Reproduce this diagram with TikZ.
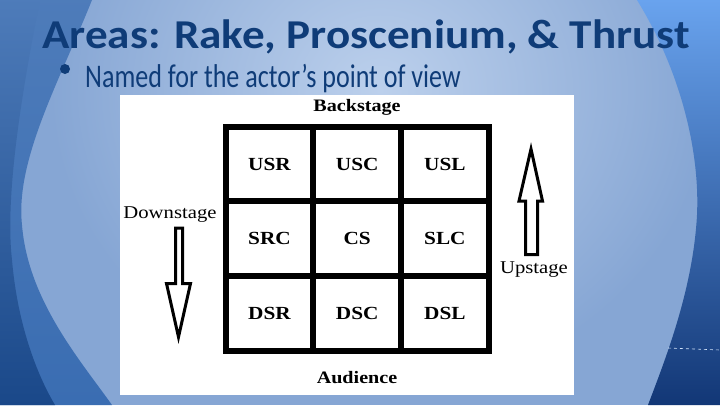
\documentclass[tikz,border=0pt]{standalone}
\usepackage{fontspec}
\setmainfont{Liberation Serif}
\newfontfamily\titlefont[FakeStretch=1.1]{Carlito}
\newfontfamily\slidefont[FakeStretch=0.79]{Carlito}
\newfontfamily\stagefont[FakeStretch=1.15]{Liberation Serif}
\usetikzlibrary{positioning}
\definecolor{titleblue}{HTML}{0F3C78}
\definecolor{bglight}{HTML}{BCD0EC}
\definecolor{bgmid}{HTML}{86A6D4}
\definecolor{bandblue}{HTML}{3A6DB2}
\definecolor{darkblue}{HTML}{1A4889}
\definecolor{rightblue}{HTML}{69A3EE}
\definecolor{navy}{HTML}{123776}
\tikzstyle{cell} = [rectangle, draw=black, line width=6pt, outer sep=0pt, inner sep=0pt, minimum width=87.7pt, minimum height=74.7pt, font=\stagefont\bfseries\fontsize{18.5}{20}\selectfont]
\tikzstyle{side} = [inner sep=0pt, font=\stagefont\fontsize{18}{20}\selectfont]
\tikzstyle{edge} = [inner sep=0pt, font=\stagefont\bfseries\fontsize{17.5}{20}\selectfont]
\tikzstyle{blockarrow} = [draw=black, line width=3pt, fill=white, line join=miter]

\begin{document}
\begin{tikzpicture}[x=1pt, y=-1pt, node distance=87.7pt]
\useasboundingbox (0,0) rectangle (720,405);

%% BACKGROUND

\fill[bgmid] (0,0) rectangle (720,405);
\shade[inner color=bglight, outer color=bgmid] (380,90) ellipse (330 and 300);
\shade[top color=rightblue, bottom color=navy] (637,0) .. controls (680,70) and (700,150) .. (697,215) .. controls (693,290) and (665,360) .. (648,405) -- (720,405) -- (720,0) -- cycle;
\draw[white!70!rightblue, dashed, line width=0.6pt] (668,348) -- (720,350);
\shade[top color=bandblue!90!white, bottom color=bandblue] (0,0) -- (92,0) .. controls (60,80) and (15,160) .. (22,225) .. controls (28,300) and (80,360) .. (112,405) -- (0,405) -- cycle;
\shade[top color=bandblue!90!white, bottom color=darkblue] (0,0) -- (40,0) .. controls (20,100) and (5,200) .. (12,260) .. controls (18,330) and (40,380) .. (55,405) -- (0,405) -- cycle;

%% TITLE

\node (title) [anchor=base, text=titleblue, font=\titlefont\bfseries\fontsize{41}{44}\selectfont, inner sep=0pt] at (366,48) {Areas: Rake, Proscenium, \& Thrust};
\fill[titleblue] (65,69) circle (5);
\node (point) [anchor=base west, text=titleblue, font=\slidefont\fontsize{33}{36}\selectfont, inner sep=0pt] at (85,87) {Named for the actor’s point of view};

%% STAGE PICTURE

\fill[white] (120,95) rectangle (574,395);

\node (usr) [cell] at (269.5,164) {USR};
\node (usc) [cell, right of=usr] {USC};
\node (usl) [cell, right of=usc] {USL};
\node (src) [cell, below of=usr, node distance=74.7pt] {SRC};
\node (cs)  [cell, right of=src] {CS};
\node (slc) [cell, right of=cs] {SLC};
\node (dsr) [cell, below of=src, node distance=74.7pt] {DSR};
\node (dsc) [cell, right of=dsr] {DSC};
\node (dsl) [cell, right of=dsc] {DSL};

\node (back) [edge] at (357,107) {Backstage};
\node (aud) [edge] at (357,378) {Audience};
\node (down) [side] at (170,215) {Downstage};
\node (up) [side] at (534,270) {Upstage};

%% ARROWS

\draw[blockarrow] (175.5,228) -- (182.5,228) -- (182.5,283.5) -- (190.5,283.5) -- (178.5,337) -- (166.5,283.5) -- (175.5,283.5) -- cycle;
\draw[blockarrow] (525.5,254.5) -- (537.5,254.5) -- (537.5,201) -- (542.5,201) -- (531,149) -- (519,201) -- (525.5,201) -- cycle;

\end{tikzpicture}
\end{document}
